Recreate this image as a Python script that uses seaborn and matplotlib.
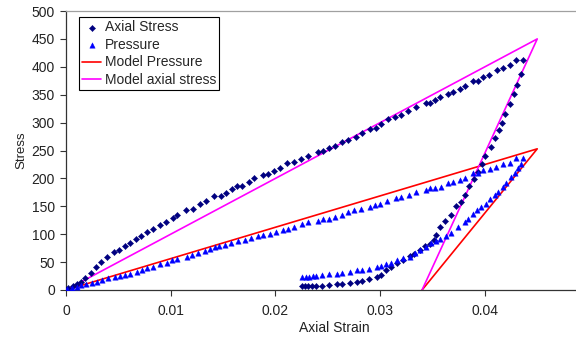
import numpy as np
import pandas as pd
import matplotlib
matplotlib.use("Agg")
import matplotlib.pyplot as plt
import seaborn as sns

# measured axial stress (loading then unloading)
axial_strain = [0.0, 0.00022, 0.0007, 0.00102, 0.00143, 0.00181, 0.00239, 0.00283, 0.00337, 0.00391,
                0.00458, 0.00509, 0.0056, 0.00608, 0.00671, 0.00716, 0.0077, 0.00833, 0.009, 0.00957,
                0.01018, 0.01062, 0.01148, 0.01209, 0.01276, 0.01333, 0.01412, 0.01476, 0.01524, 0.01587,
                0.01635, 0.01682, 0.01749, 0.01797, 0.01883, 0.0193, 0.01988, 0.02042, 0.02112, 0.02176,
                0.0224, 0.02312, 0.02405, 0.02455, 0.02512, 0.02567, 0.0264, 0.02691, 0.02767, 0.02827,
                0.02904, 0.02958, 0.03012, 0.03075, 0.03139, 0.03203, 0.03266, 0.03346, 0.03435, 0.03473,
                0.03521, 0.03572, 0.03648, 0.03695, 0.0376, 0.0381, 0.03886, 0.03934, 0.03982, 0.04043,
                0.04115, 0.04177, 0.04237, 0.04301, 0.04364,
                0.04348, 0.04306, 0.04275, 0.04237, 0.04189, 0.04167, 0.04135, 0.041, 0.04055, 0.04005,
                0.03972, 0.03934, 0.03893, 0.03848, 0.0381, 0.03776, 0.03724, 0.03677, 0.03623, 0.03576,
                0.03531, 0.03511, 0.03473, 0.03432, 0.03378, 0.03327, 0.03282, 0.03218, 0.03161, 0.03108,
                0.0306, 0.03012, 0.0297, 0.02891, 0.02831, 0.02774, 0.0271, 0.02631, 0.02583, 0.0251,
                0.0244, 0.02385, 0.02347, 0.02312, 0.02278, 0.02249]
axial_stress = [0, 3.6, 7, 10, 14, 21, 31, 41, 51, 60,
                68, 72, 78, 84, 92, 97, 104, 109, 117, 122,
                129, 134, 143, 146, 154, 160, 168, 168.5, 173, 181,
                186, 187, 194, 200, 206, 207, 213, 219, 227, 230,
                234, 241, 248, 249, 254, 258, 266, 269, 275, 282,
                289, 291, 297, 306, 310, 314, 321, 328, 336, 336,
                340, 345, 352, 354, 360, 366, 375, 375, 381, 386,
                394, 398, 403, 413, 412,
                387, 367, 351, 333, 315, 299, 286, 272, 256, 241,
                226, 211, 199, 186, 171, 158, 150, 135, 123, 112,
                99, 89, 82, 79, 72, 65, 61, 54, 48, 41,
                35, 27, 24, 20, 17, 15, 13, 11, 10, 9,
                8, 8, 8, 8, 8, 8]

# measured pressure (loading then unloading)
pressure_strain = [0.00006, 0.00054, 0.00102, 0.00143, 0.00191, 0.00245, 0.00293, 0.00341, 0.00404, 0.00468,
                   0.00515, 0.00563, 0.00611, 0.00675, 0.00722, 0.00776, 0.00833, 0.00897, 0.00961, 0.01008,
                   0.01062, 0.01151, 0.01205, 0.01262, 0.01326, 0.01374, 0.01422, 0.01463, 0.0152, 0.0158,
                   0.0164, 0.0171, 0.0177, 0.0183, 0.01883, 0.0195, 0.0201, 0.0207, 0.0212, 0.02176,
                   0.02258, 0.02312, 0.02408, 0.02455, 0.02512, 0.02573, 0.02631, 0.02694, 0.02751, 0.02815,
                   0.02901, 0.02948, 0.03003, 0.03066, 0.03149, 0.03203, 0.03276, 0.03346, 0.03435, 0.03473,
                   0.03521, 0.03585, 0.03648, 0.03696, 0.0376, 0.03807, 0.03886, 0.03934, 0.03982, 0.04046,
                   0.0411, 0.04173, 0.04237, 0.043, 0.04364,
                   0.04348, 0.04316, 0.04284, 0.04253, 0.04198, 0.04173, 0.04125, 0.04094, 0.04046, 0.04008,
                   0.03966, 0.03925, 0.03886, 0.03839, 0.03807, 0.03743, 0.0368, 0.03633, 0.03575, 0.03537,
                   0.0349, 0.03435, 0.03378, 0.0333, 0.03282, 0.03218, 0.03161, 0.03108, 0.0306, 0.03012,
                   0.0297, 0.02894, 0.02831, 0.02774, 0.0271, 0.02631, 0.02583, 0.0251, 0.0244, 0.02385,
                   0.02354, 0.02322, 0.0229, 0.02258]
pressure = [1, 3, 6, 9, 10, 12, 14, 18, 21, 23,
            25, 27, 29, 33, 36, 39, 42, 47, 49, 53,
            56, 60, 63, 66, 70, 73, 77, 78, 81, 84,
            87, 90, 93, 96, 99, 101, 104, 107, 110, 113,
            118, 121, 124, 127, 128, 131, 134, 139, 143, 145,
            149, 152, 155, 159, 164, 166, 170, 175, 180, 182,
            182, 185, 191, 194, 198, 201, 209, 210, 215, 216,
            221, 225, 228, 236, 237,
            226, 218, 210, 203, 192, 185, 176, 170, 163, 155,
            149, 143, 137, 128, 122, 113, 102, 96, 91, 87,
            84, 77, 72, 66, 60, 57, 54, 48, 46, 43,
            42, 38, 36, 35, 32, 30, 29, 28, 27, 25,
            25, 24, 24, 24]

# model curves: load to peak, unload to residual strain
model_strain = [0.0, 0.045, 0.034]
model_pressure = [0, 253, 0]
model_axial = [0, 450, 0]

sns.set_style("white")
plt.rcParams['font.family'] = ['Liberation Sans', 'DejaVu Sans']

fig = plt.figure(figsize=(5.76, 3.41), dpi=100)
ax = fig.add_axes([0.1146, 0.1496, 0.8854, 0.8181])

sns.scatterplot(x=axial_strain, y=axial_stress, marker='D', s=10, color='#000080',
                edgecolor='#000080', linewidth=0.3, label='Axial Stress', ax=ax, zorder=3)
sns.scatterplot(x=pressure_strain, y=pressure, marker='^', s=15, color='#0000FF',
                edgecolor='#0000FF', linewidth=0.3, label='Pressure', ax=ax, zorder=3)
sns.lineplot(x=model_strain, y=model_pressure, sort=False, color='#FF0000', linewidth=1.2,
             label='Model Pressure', ax=ax, zorder=2)
sns.lineplot(x=model_strain, y=model_axial, sort=False, color='#FF00FF', linewidth=1.2,
             label='Model axial stress', ax=ax, zorder=2)

ax.set_xlim(0, 0.0487)
ax.set_ylim(0, 500)
ax.set_xticks([0, 0.01, 0.02, 0.03, 0.04])
ax.set_xticklabels(['0', '0.01', '0.02', '0.03', '0.04'])
ax.set_yticks(np.arange(0, 501, 50))
ax.tick_params(axis='both', direction='out', length=4, width=0.8, color='#333333',
               labelsize=10, labelcolor='#222222', bottom=True, left=True)
ax.tick_params(axis='x', pad=6)
ax.tick_params(axis='y', pad=4)
ax.set_xlabel('Axial Strain', fontsize=10, color='#222222')
ax.xaxis.set_label_coords(0.527, -0.112)
ax.set_ylabel('Stress', fontsize=9.5, labelpad=3, color='#222222')

for side in ['left', 'bottom']:
    ax.spines[side].set_color('#333333')
    ax.spines[side].set_linewidth(0.9)
ax.spines['top'].set_color('#A0A0A0')
ax.spines['top'].set_linewidth(0.9)
ax.spines['right'].set_visible(False)

leg = ax.legend(loc='upper left', bbox_to_anchor=(0.0255, 0.977), fontsize=10, frameon=True,
                fancybox=False, edgecolor='black', framealpha=1, borderpad=0.2,
                labelspacing=0.26, handlelength=1.4, handletextpad=0.25, borderaxespad=0)
leg.get_frame().set_linewidth(0.8)

fig.savefig('out.png', dpi=100)
